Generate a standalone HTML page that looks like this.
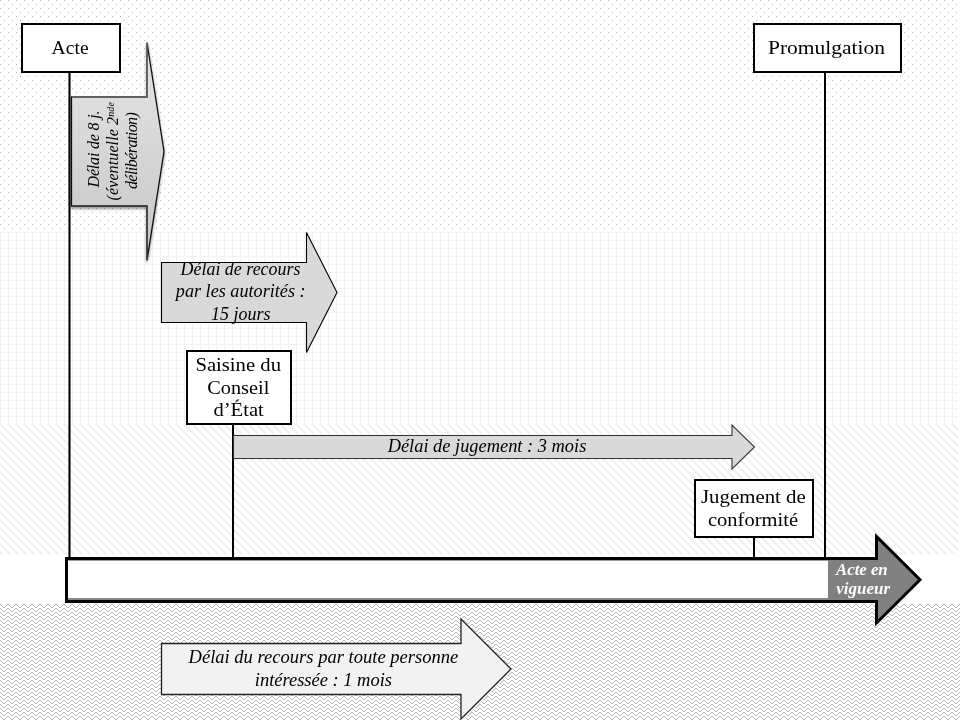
<!DOCTYPE html>
<html><head><meta charset="utf-8">
<style>
html,body{margin:0;padding:0;background:#fff;width:960px;height:720px;overflow:hidden}
svg{display:block;will-change:transform}
text{font-family:"Liberation Serif",serif;fill:#000}
.it{font-style:italic}
</style></head>
<body>
<svg width="960" height="720" viewBox="0 0 960 720">
<defs>
<pattern id="pDots" x="0" y="0" width="8" height="8" patternUnits="userSpaceOnUse">
<rect x="0" y="0" width="1" height="1" fill="#b6b6b6"/>
<rect x="4" y="4" width="1" height="1" fill="#b6b6b6"/>
</pattern>
<pattern id="pGrid" x="0" y="0" width="8" height="8" patternUnits="userSpaceOnUse">
<rect x="0" y="0" width="8" height="1" fill="#f2f2f2"/>
<rect x="0" y="0" width="1" height="8" fill="#f2f2f2"/>
</pattern>
<pattern id="pDiag" x="0" y="0" width="8" height="8" patternUnits="userSpaceOnUse">
<rect x="0" y="0" width="2" height="1" fill="#f1f1f1"/><rect x="7" y="0" width="1" height="1" fill="#f1f1f1"/>
<rect x="0" y="1" width="3" height="1" fill="#f1f1f1"/>
<rect x="1" y="2" width="3" height="1" fill="#f1f1f1"/>
<rect x="2" y="3" width="3" height="1" fill="#f1f1f1"/>
<rect x="3" y="4" width="3" height="1" fill="#f1f1f1"/>
<rect x="4" y="5" width="3" height="1" fill="#f1f1f1"/>
<rect x="5" y="6" width="3" height="1" fill="#f1f1f1"/>
<rect x="6" y="7" width="2" height="1" fill="#f1f1f1"/><rect x="0" y="7" width="1" height="1" fill="#f1f1f1"/>
</pattern>
<pattern id="pZig" x="0" y="0" width="8" height="4" patternUnits="userSpaceOnUse">
<rect x="0" y="0" width="1" height="1" fill="#b8b8b8"/><rect x="7" y="0" width="1" height="1" fill="#b8b8b8"/>
<rect x="1" y="1" width="1" height="1" fill="#b8b8b8"/><rect x="6" y="1" width="1" height="1" fill="#b8b8b8"/>
<rect x="2" y="2" width="1" height="1" fill="#b8b8b8"/><rect x="5" y="2" width="1" height="1" fill="#b8b8b8"/>
<rect x="3" y="3" width="2" height="1" fill="#b8b8b8"/>
</pattern>
<linearGradient id="g1" x1="0" y1="43" x2="0" y2="260" gradientUnits="userSpaceOnUse">
<stop offset="0" stop-color="#e6e6e6"/><stop offset="1" stop-color="#c6c6c6"/>
</linearGradient>
<filter id="sh1" x="-20%" y="-20%" width="140%" height="140%">
<feGaussianBlur in="SourceAlpha" stdDeviation="1.5"/>
<feOffset dx="0.3" dy="2" result="b"/>
<feComponentTransfer><feFuncA type="linear" slope="0.45"/></feComponentTransfer>
<feMerge><feMergeNode/><feMergeNode in="SourceGraphic"/></feMerge>
</filter>
<clipPath id="cl2"><rect x="162" y="262.5" width="150" height="60"/></clipPath>
</defs>

<!-- background bands -->
<g shape-rendering="crispEdges">
<rect x="0" y="0" width="958" height="232" fill="url(#pDots)"/>
<rect x="0" y="232" width="958" height="192" fill="url(#pGrid)"/>
<rect x="0" y="424" width="958" height="131" fill="url(#pDiag)"/>
<rect x="0" y="604" width="960" height="116" fill="url(#pZig)"/>
</g>

<!-- vertical connector lines -->
<line x1="69.5" y1="72" x2="69.5" y2="558" stroke="#000" stroke-width="2.1"/>
<line x1="825" y1="72" x2="825" y2="561" stroke="#000" stroke-width="2"/>
<line x1="233" y1="424" x2="233" y2="558" stroke="#000" stroke-width="2"/>
<line x1="754" y1="537" x2="754" y2="558" stroke="#000" stroke-width="2"/>

<!-- Acte box -->
<rect x="22" y="24" width="98" height="48" fill="#fff" stroke="#000" stroke-width="2"/>
<text x="70.1" y="54" font-size="18" text-anchor="middle" textLength="37" lengthAdjust="spacingAndGlyphs">Acte</text>

<!-- Promulgation box -->
<rect x="754" y="24" width="147" height="48" fill="#fff" stroke="#000" stroke-width="2"/>
<text x="826.5" y="54" font-size="18" text-anchor="middle" textLength="117" lengthAdjust="spacingAndGlyphs">Promulgation</text>

<!-- Arrow 1 (vertical text) -->
<path d="M71.5,97 H147 V42.5 L164,151.5 L147,260.5 V206 H71.5 Z" fill="url(#g1)" stroke="#111" stroke-width="1.3" filter="url(#sh1)"/>
<g fill="none" stroke-width="1.4">
<path d="M72,97 H147 V43" stroke="#6a6a6a"/>
<path d="M147,260 V206 H72" stroke="#444"/>
</g>
<g class="it" style="fill:#111">
<text class="it" transform="translate(99,149) rotate(-90)" font-size="16" text-anchor="middle" textLength="77" lengthAdjust="spacing">Délai de 8 j.</text>
<text class="it" transform="translate(117.5,151.3) rotate(-90)" font-size="16" text-anchor="middle" textLength="98.4" lengthAdjust="spacing">(éventuelle 2<tspan font-size="10" dy="-4">nde</tspan></text>
<text class="it" transform="translate(137,150.6) rotate(-90)" font-size="16" text-anchor="middle" textLength="77" lengthAdjust="spacing">délibération)</text>
</g>

<!-- Arrow 2 -->
<path d="M161.5,262.5 H306.5 V232.5 L337,292.5 L306.5,352.5 V322.5 H161.5 Z" fill="#d9d9d9" stroke="#000" stroke-width="1.1"/>
<text class="it" x="240.5" y="274.6" font-size="19" clip-path="url(#cl2)" text-anchor="middle" textLength="120" lengthAdjust="spacingAndGlyphs">Délai de recours</text>
<text class="it" x="240.7" y="297.4" font-size="19" text-anchor="middle" textLength="129.8" lengthAdjust="spacingAndGlyphs">par les autorités :</text>
<text class="it" x="240.8" y="319.7" font-size="19" text-anchor="middle" textLength="59.5" lengthAdjust="spacingAndGlyphs">15 jours</text>

<!-- Saisine box -->
<rect x="187" y="351" width="104" height="73" fill="#fff" stroke="#000" stroke-width="2"/>
<text x="238.2" y="370.5" font-size="18" text-anchor="middle" textLength="85.6" lengthAdjust="spacingAndGlyphs">Saisine du</text>
<text x="238.3" y="393.5" font-size="18" text-anchor="middle" textLength="62" lengthAdjust="spacingAndGlyphs">Conseil</text>
<text x="238.6" y="415.7" font-size="18" text-anchor="middle" textLength="50.3" lengthAdjust="spacingAndGlyphs">d’État</text>

<!-- Arrow 3 -->
<path d="M233.5,435.5 H732 V425 L754.5,447 L732,469 V458.5 H233.5 Z" fill="#d9d9d9" stroke="#333" stroke-width="1.1"/>
<text class="it" x="487" y="451.8" font-size="19" text-anchor="middle" textLength="198.7" lengthAdjust="spacingAndGlyphs">Délai de jugement : 3 mois</text>

<!-- Jugement box -->
<rect x="695" y="480" width="118" height="57" fill="#fff" stroke="#000" stroke-width="2"/>
<text x="753.4" y="502.8" font-size="18" text-anchor="middle" textLength="104.8" lengthAdjust="spacingAndGlyphs">Jugement de</text>
<text x="753" y="525.5" font-size="18" text-anchor="middle" textLength="90" lengthAdjust="spacingAndGlyphs">conformité</text>

<!-- Main bar -->
<path d="M66.5,558.5 H876.5 V536.5 L920,579.75 L876.5,623 V601.5 H66.5 Z" fill="#fff" stroke="none"/>
<path d="M828,560 H876.5 V536.5 L920,579.75 L876.5,623 V600 H828 Z" fill="#808080"/>
<rect x="68" y="598" width="760" height="2" fill="#888"/>
<path d="M66.5,558.5 H876.5 V536.5 L920,579.75 L876.5,623 V601.5 H66.5 Z" fill="none" stroke="#000" stroke-width="3"/>
<rect x="68" y="560" width="760" height="1" fill="#9a9a9a"/>
<text class="it" x="836" y="574.6" font-size="16.2" font-weight="bold" style="fill:#fff" textLength="51.7" lengthAdjust="spacingAndGlyphs">Acte en</text>
<text class="it" x="836.3" y="593.5" font-size="16.2" font-weight="bold" style="fill:#fff" textLength="53.7" lengthAdjust="spacingAndGlyphs">vigueur</text>

<!-- Arrow 4 -->
<path d="M161.5,643.5 H461 V619 L511,669 L461,719 V694.5 H161.5 Z" fill="#f2f2f2" stroke="#222" stroke-width="1.3"/>
<text class="it" x="323.4" y="662.8" font-size="19" text-anchor="middle" textLength="269.8" lengthAdjust="spacingAndGlyphs">Délai du recours par toute personne</text>
<text class="it" x="323.4" y="685.6" font-size="19" text-anchor="middle" textLength="137.2" lengthAdjust="spacingAndGlyphs">intéressée : 1 mois</text>
</svg>
</body></html>
